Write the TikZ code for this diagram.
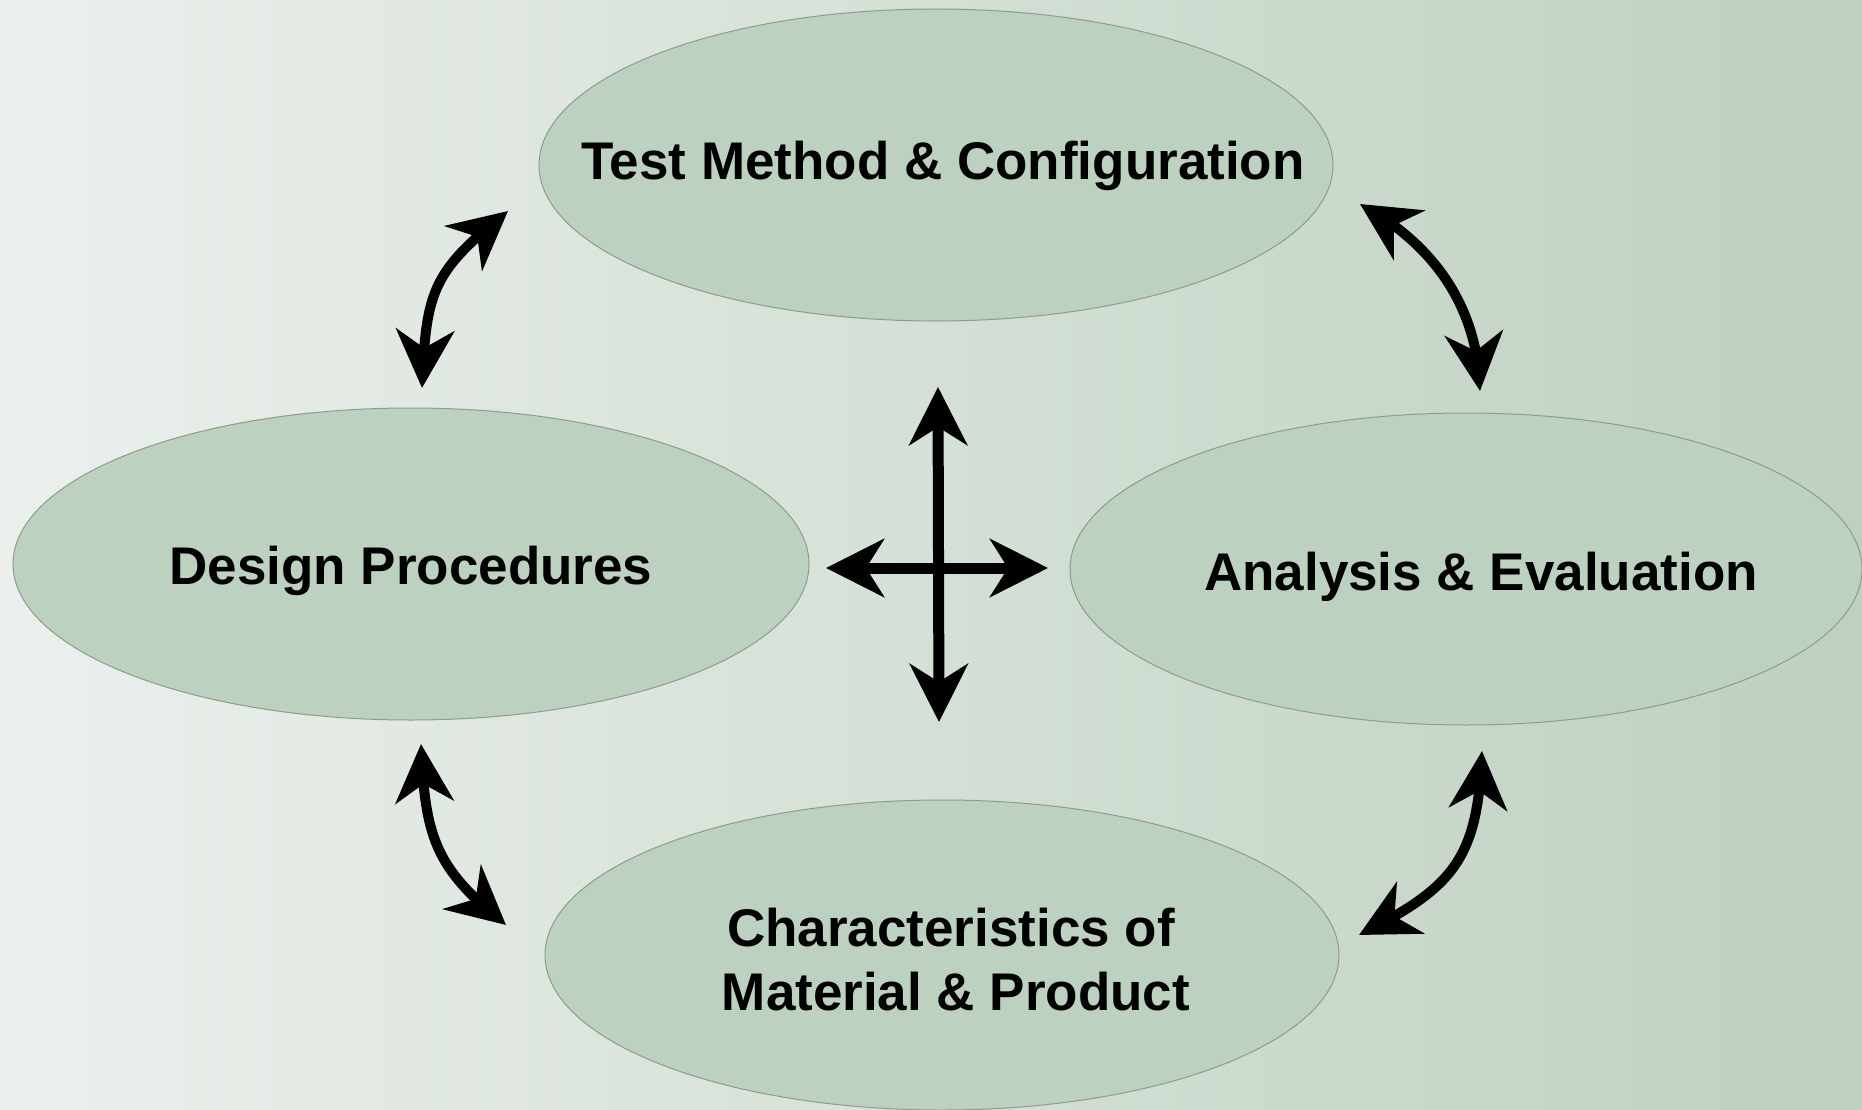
\documentclass[tikz,border=0pt]{standalone}
\usepackage{fontspec}
\setmainfont{Liberation Sans}
\usetikzlibrary{shapes.geometric,arrows.meta,bending}

\definecolor{bgleft}{HTML}{EBF0EC}
\definecolor{bgright}{HTML}{BED0C0}
\definecolor{blobfill}{HTML}{BDD1C0}
\definecolor{blobedge}{HTML}{8C9C8E}

\tikzset{
  blob/.style={ellipse, draw=blobedge, line width=1pt, fill=blobfill, inner sep=0pt},
  lbl/.style={anchor=base, inner sep=0pt, font=\bfseries\fontsize{53}{64}\selectfont},
  headtip/.style={Stealth[length=58pt, width=58pt, inset=18pt]},
  link/.style={line width=10pt, {Stealth[length=58pt, width=58pt, inset=18pt]}-{Stealth[length=58pt, width=58pt, inset=18pt]}},
  cross/.style={line width=11pt, {Stealth[length=58pt, width=58pt, inset=18pt]}-{Stealth[length=58pt, width=58pt, inset=18pt]}}
}

\begin{document}
\begin{tikzpicture}[x=1pt, y=-1pt]
  % background with horizontal gradient
  \shade[left color=bgleft, right color=bgright] (0,0) rectangle (1862,1110);
  \useasboundingbox (0,0) rectangle (1862,1110);

  % the four topics
  \node[blob, minimum width=794pt, minimum height=312pt] (top) at (936,165) {};
  \node[blob, minimum width=796pt, minimum height=312pt] (left) at (411,564) {};
  \node[blob, minimum width=792pt, minimum height=312pt] (right) at (1466,569) {};
  \node[blob, minimum width=794pt, minimum height=310pt] (bottom) at (942,955) {};

  \node[lbl] (toptext) at (943,180) {Test Method \& Configuration};
  \node[lbl] (lefttext) at (411,584) {Design Procedures};
  \node[lbl] (righttext) at (1481,590) {Analysis \& Evaluation};
  \node[lbl] (bottext1) at (951,946) {Characteristics of};
  \node[lbl] (bottext2) at (956,1010) {Material \& Product};

  % arrow end points
  \coordinate (tlA) at (422,388);
  \coordinate (tlB) at (508,211);
  \coordinate (trA) at (1360,204);
  \coordinate (trB) at (1480,391);
  \coordinate (blA) at (421,744);
  \coordinate (blB) at (506,925);
  \coordinate (brA) at (1482,751);
  \coordinate (brB) at (1359,935);

  \coordinate (cU) at (938,387);
  \coordinate (cD) at (939,722);
  \coordinate (cL) at (826,568);
  \coordinate (cR) at (1048,568);

  % curved two-way links between neighbouring topics
  \draw[link] (tlA) .. controls (426,290) and (432,272) .. (tlB);
  \draw[link] (trA) .. controls (1432,243) and (1478,305) .. (trB);
  \draw[link] (blA) .. controls (425,838) and (435,868) .. (blB);
  \draw[link] (brA) .. controls (1478,858) and (1455,887) .. (brB);

  % central cross
  \draw[cross] (cD) -- (cU);
  \draw[cross] (cL) -- (cR);
\end{tikzpicture}
\end{document}
